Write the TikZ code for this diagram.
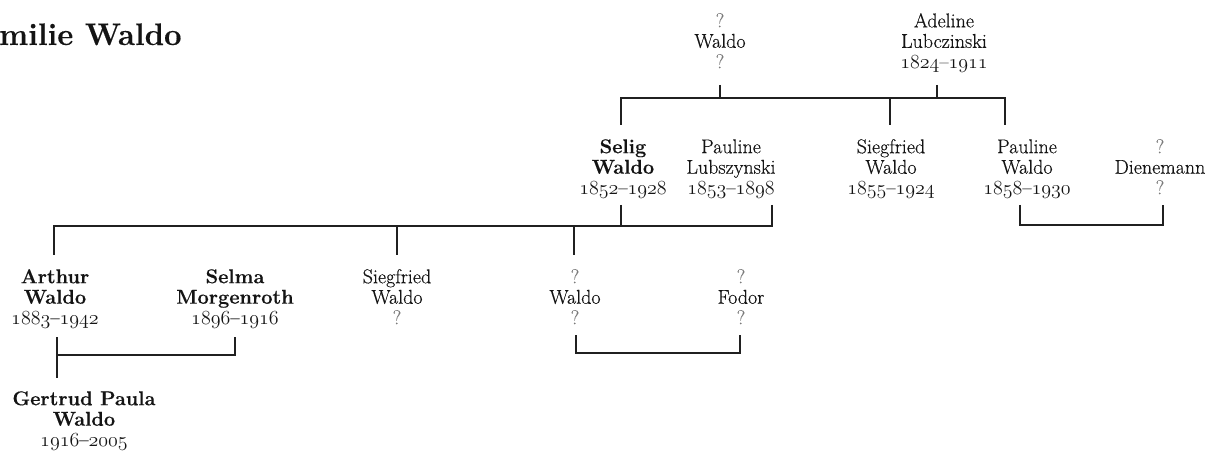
\documentclass[tikz,border=0pt]{standalone}
\usepackage{fix-cm}
\usepackage{fontspec}
\setmainfont{Latin Modern Roman}[FakeBold=0.35]
\usepackage{xcolor}
\definecolor{ink}{HTML}{141414}
\definecolor{qmark}{HTML}{7A7A7A}
\definecolor{rule}{HTML}{202020}
% old-style figures taken from the math italic font
\newcommand\osf[1]{{\usefont{OML}{cmm}{m}{it}#1}}
% life dates
\newcommand\yrs[2]{\osf{#1}--\osf{#2}}
% unknown name part / unknown date
\newcommand\unk{\textcolor{qmark}{?}}
% fixes the height of the first line of every entry
\newcommand\fl{\rule{0pt}{14pt}}
\begin{document}
\begin{tikzpicture}[x=1pt,y=-1pt,
  person/.style={anchor=north,inner sep=0pt,align=center,text=ink,
    font=\fontsize{20}{20.5}\selectfont},
  link/.style={draw=rule,line width=1.4pt}]
\useasboundingbox (0,0) rectangle (1218,454);

% title
\node[anchor=base west,inner sep=0pt,text=ink,
  font=\fontsize{31}{33}\selectfont\bfseries] (title) at (-1,45) {milie Waldo};

% first generation
\node[person] (waldoA) at (720,13) {\fl\unk\\Waldo\\\unk};
\node[person] (adeline) at (944,13) {\fl Adeline\\Lubczinski\\\yrs{1824}{1911}};

% second generation
\node[person] (selig) at (623,139) {\fl\textbf{Selig}\\\textbf{Waldo}\\\yrs{1852}{1928}};
\node[person] (paulineL) at (731,139) {\fl Pauline\\Lubszynski\\\yrs{1853}{1898}};
\node[person] (siegfriedA) at (891,139) {\fl Siegfried\\Waldo\\\yrs{1855}{1924}};
\node[person] (paulineW) at (1027,139) {\fl Pauline\\Waldo\\\yrs{1858}{1930}};
\node[person] (dienemann) at (1160,139) {\fl\unk\\Dienemann\\\unk};

% third generation
\node[person] (arthur) at (55,269) {\fl\textbf{Arthur}\\\textbf{Waldo}\\\yrs{1883}{1942}};
\node[person] (selma) at (235,269) {\fl\textbf{Selma}\\\textbf{Morgenroth}\\\yrs{1896}{1916}};
\node[person] (siegfriedB) at (397,269) {\fl Siegfried\\Waldo\\\unk};
\node[person] (waldoB) at (575,269) {\fl\unk\\Waldo\\\unk};
\node[person] (fodor) at (741,269) {\fl\unk\\Fodor\\\unk};

% fourth generation
\node[person] (gertrud) at (84,391) {\fl\textbf{Gertrud Paula}\\\textbf{Waldo}\\\yrs{1916}{2005}};

% connector end points
\coordinate (busA) at (0,98);
\coordinate (busB) at (0,226);
\coordinate (busC) at (0,225);
\coordinate (busD) at (0,355);
\coordinate (busE) at (0,353);
\coordinate (tW) at (720,85);
\coordinate (tA) at (937,85);
\coordinate (dSel) at (621,125);
\coordinate (dSie) at (890,125);
\coordinate (dPau) at (1005,125);
\coordinate (tSel) at (621,205);
\coordinate (tPL) at (772,205);
\coordinate (tPW) at (1020,205);
\coordinate (tDi) at (1163,205);
\coordinate (dArt) at (54,255);
\coordinate (dSie2) at (397,255);
\coordinate (dWal) at (574,255);
\coordinate (tArt) at (57,337);
\coordinate (dGer) at (57,378);
\coordinate (tSel2) at (235,337);
\coordinate (tWal) at (576,335);
\coordinate (tFod) at (740,335);

% parents of Selig, Siegfried and Pauline
\draw[link] (tW) -- (tW |- busA);
\draw[link] (tA) -- (tA |- busA);
\draw[link] (dSel) |- (busA -| dPau) -- (dPau);
\draw[link] (dSie) -- (dSie |- busA);

% Selig and Pauline with their children
\draw[link] (tSel) -- (tSel |- busB);
\draw[link] (tPL) |- (busB -| dArt) -- (dArt);
\draw[link] (dSie2) -- (dSie2 |- busB);
\draw[link] (dWal) -- (dWal |- busB);

% Pauline Waldo and Dienemann
\draw[link] (tPW) |- (busC -| tDi) -- (tDi);

% Arthur and Selma with Gertrud
\draw[link] (tArt) -- (dGer);
\draw[link] (tSel2) |- (busD -| tArt);

% Waldo and Fodor
\draw[link] (tWal) |- (busE -| tFod) -- (tFod);
\end{tikzpicture}
\end{document}
